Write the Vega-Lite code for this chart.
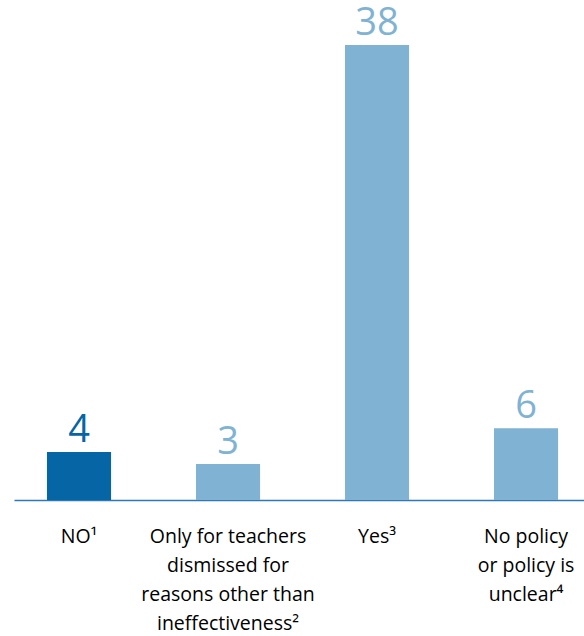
{
  "$schema": "https://vega.github.io/schema/vega-lite/v6.json",
  "autosize": "none",
  "width": 570,
  "height": 455,
  "padding": {"left": 14, "top": 45, "right": 0, "bottom": 136},
  "background": "white",
  "config": {"view": {"stroke": null}, "font": "Open Sans"},
  "data": {"values": [
    {"category": "NO¹", "value": 4, "group": "no"},
    {"category": "Only for teachers|dismissed for|reasons other than|ineffectiveness²", "value": 3, "group": "other"},
    {"category": "Yes³", "value": 38, "group": "other"},
    {"category": "No policy|or policy is|unclear⁴", "value": 6, "group": "other"}
  ]},
  "encoding": {
    "x": {
      "field": "category", "type": "nominal", "sort": null,
      "scale": {"paddingInner": 0.57, "paddingOuter": 0.1977, "align": 0.56},
      "axis": {
        "title": null, "ticks": false, "domainColor": "#2f78b8", "domainWidth": 1.5,
        "labelExpr": "split(datum.label, '|')", "labelAngle": 0,
        "labelFontSize": 19.5, "labelColor": "#000000", "labelPadding": 27,
        "labelLineHeight": 29, "labelFont": "Open Sans", "labelBaseline": "top"
      }
    },
    "y": {"field": "value", "type": "quantitative", "scale": {"domain": [0, 38]}, "axis": null},
    "color": {
      "field": "group", "type": "nominal",
      "scale": {"domain": ["no", "other"], "range": ["#0565a5", "#80b3d3"]},
      "legend": null
    }
  },
  "layer": [
    {"mark": {"type": "bar"}},
    {"mark": {"type": "text", "baseline": "alphabetic", "dy": -10, "fontSize": 38, "font": "Open Sans"},
     "encoding": {"text": {"field": "value", "type": "quantitative"}}}
  ]
}
